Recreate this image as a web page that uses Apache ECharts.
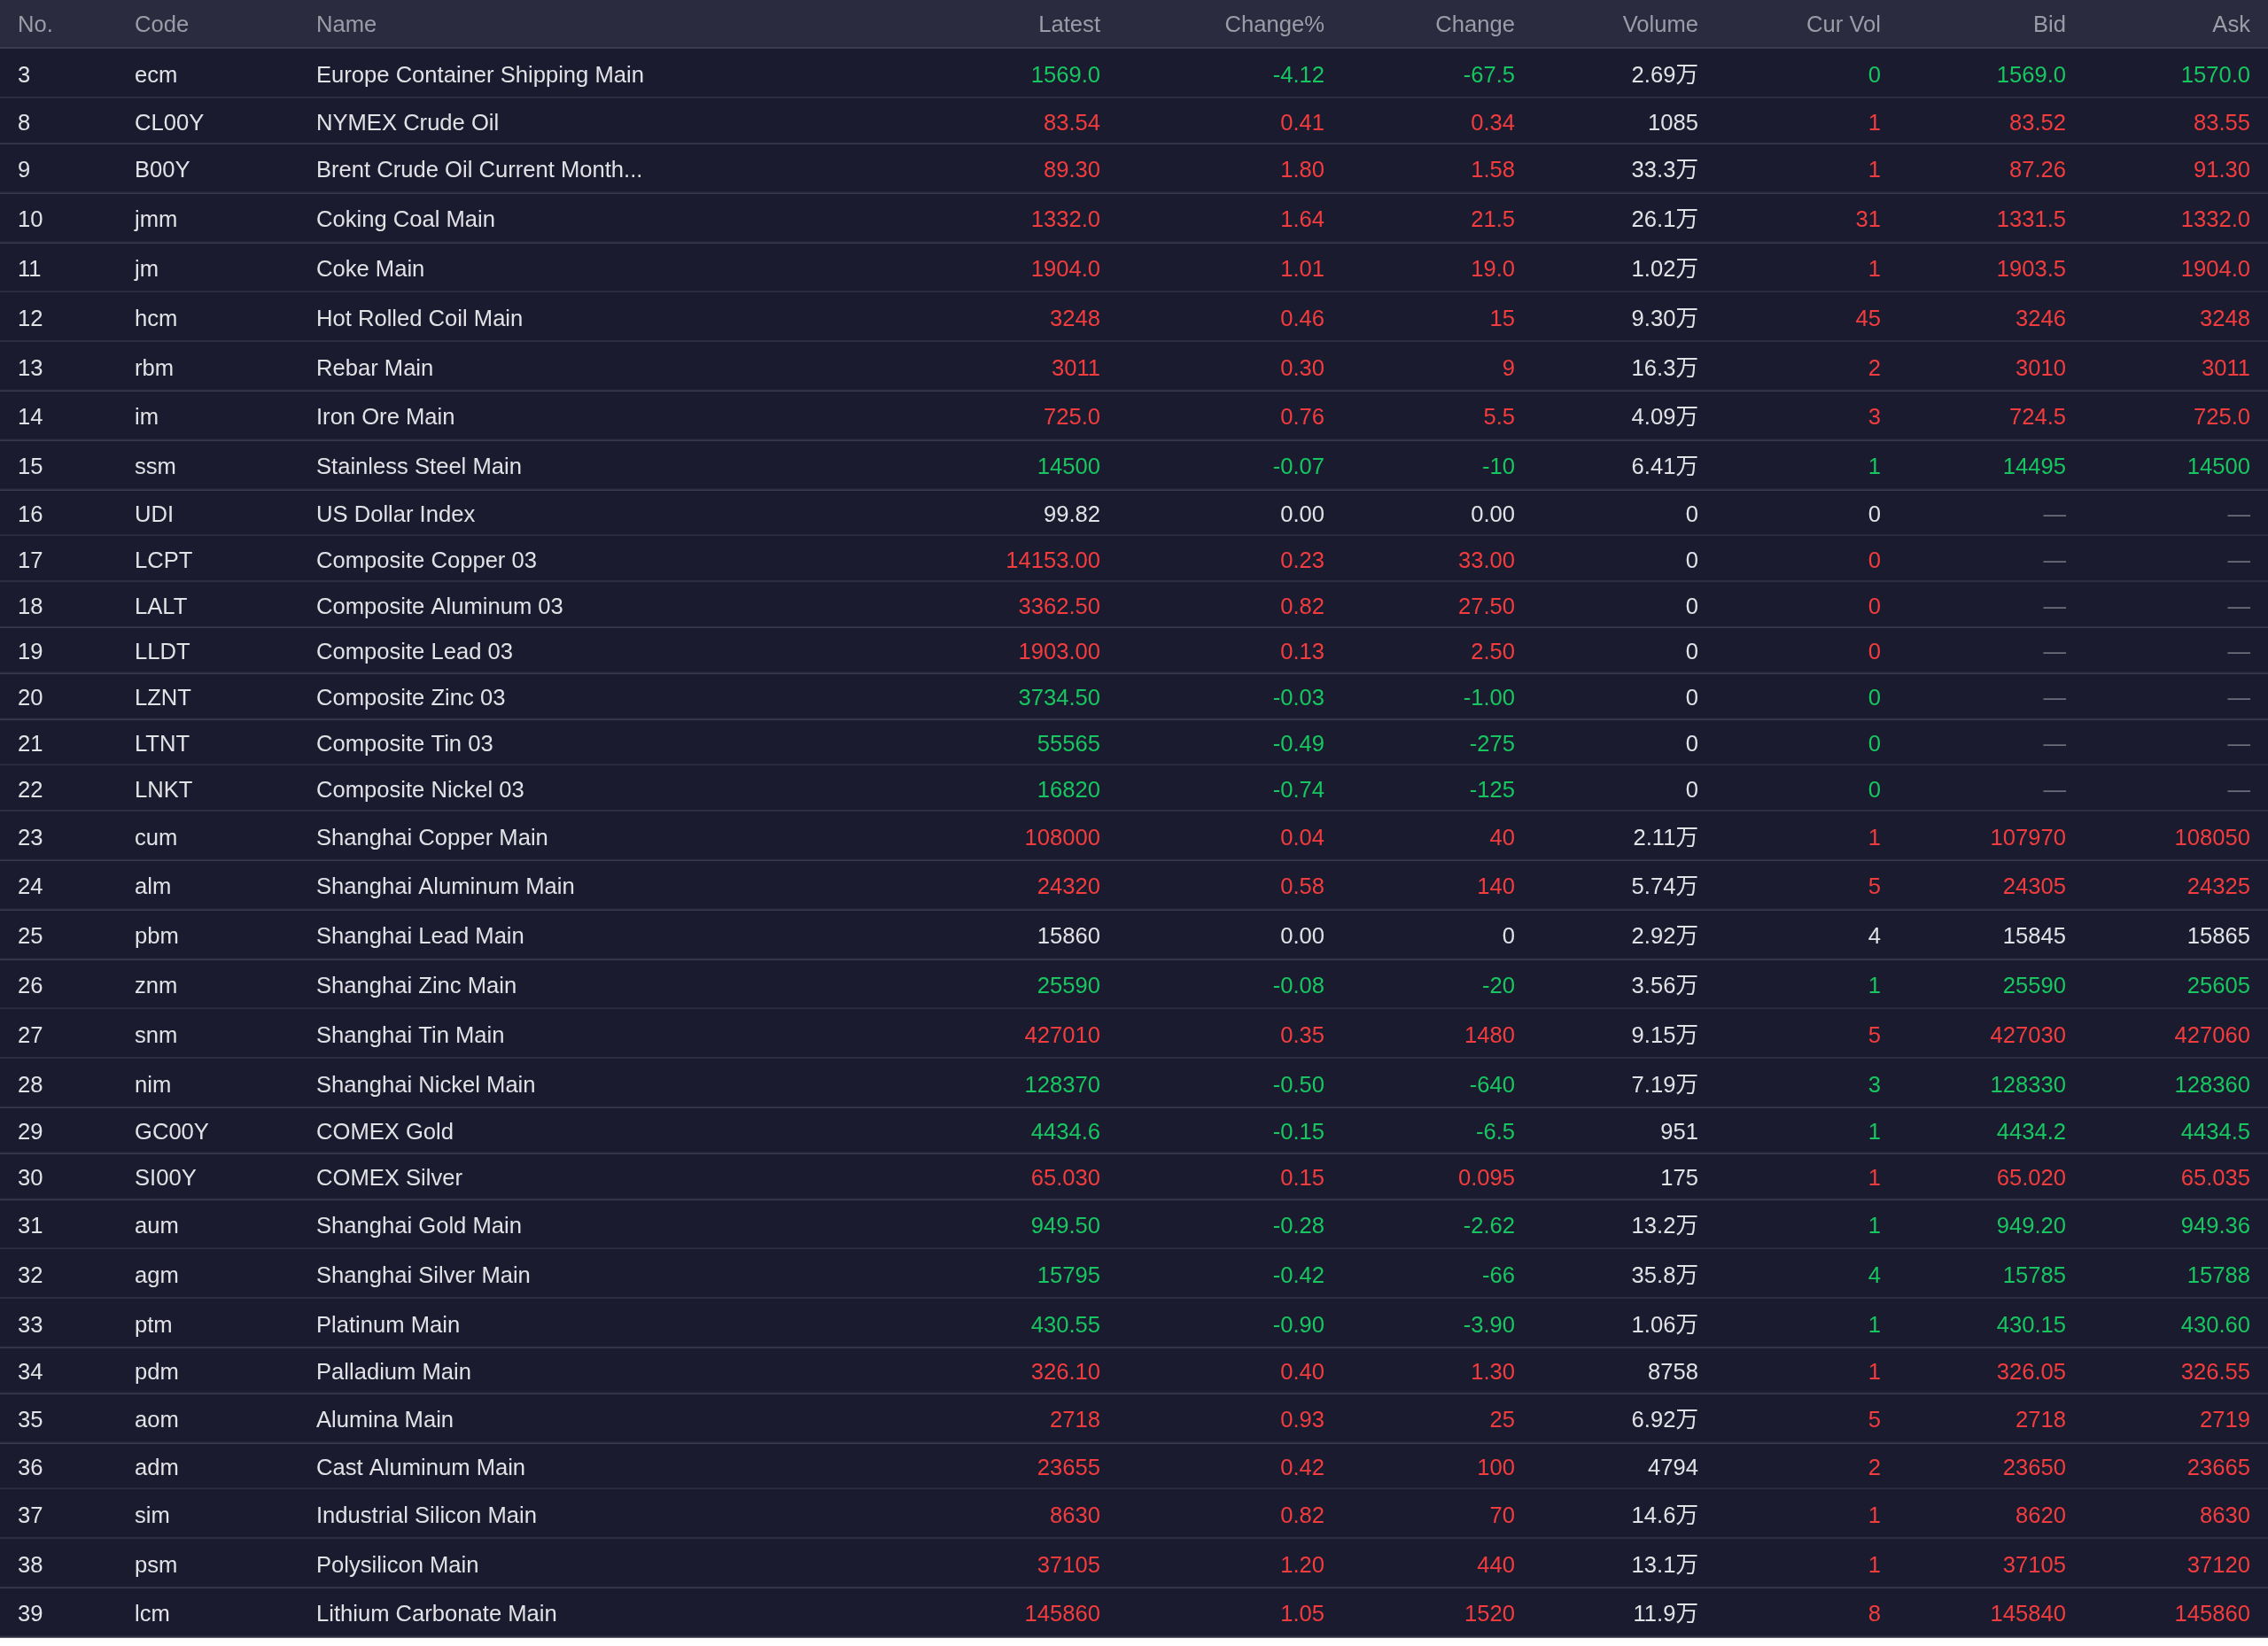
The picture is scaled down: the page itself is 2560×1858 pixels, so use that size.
<!DOCTYPE html>
<html>
<head>
<meta charset="utf-8">
<style>
html, body { margin: 0; padding: 0; background: #ffffff; }
#chart { width: 2560px; height: 1858px; }
</style>
<script src="https://cdn.jsdelivr.net/npm/echarts@6/dist/echarts.min.js"></script>
</head>
<body>
<div id="chart"></div>
<script>
var headers = ['No.', 'Code', 'Name', 'Latest', 'Change%', 'Change', 'Volume', 'Cur Vol', 'Bid', 'Ask'];

var nos = ['3', '8', '9', '10', '11', '12', '13', '14', '15', '16', '17', '18', '19', '20', '21', '22',
    '23', '24', '25', '26', '27', '28', '29', '30', '31', '32', '33', '34', '35', '36', '37', '38', '39'];
var codes = ['ecm', 'CL00Y', 'B00Y', 'jmm', 'jm', 'hcm', 'rbm', 'im', 'ssm', 'UDI', 'LCPT', 'LALT', 'LLDT',
    'LZNT', 'LTNT', 'LNKT', 'cum', 'alm', 'pbm', 'znm', 'snm', 'nim', 'GC00Y', 'SI00Y', 'aum', 'agm',
    'ptm', 'pdm', 'aom', 'adm', 'sim', 'psm', 'lcm'];
var names = ['Europe Container Shipping Main', 'NYMEX Crude Oil', 'Brent Crude Oil Current Month...',
    'Coking Coal Main', 'Coke Main', 'Hot Rolled Coil Main', 'Rebar Main', 'Iron Ore Main',
    'Stainless Steel Main', 'US Dollar Index', 'Composite Copper 03', 'Composite Aluminum 03',
    'Composite Lead 03', 'Composite Zinc 03', 'Composite Tin 03', 'Composite Nickel 03',
    'Shanghai Copper Main', 'Shanghai Aluminum Main', 'Shanghai Lead Main', 'Shanghai Zinc Main',
    'Shanghai Tin Main', 'Shanghai Nickel Main', 'COMEX Gold', 'COMEX Silver', 'Shanghai Gold Main',
    'Shanghai Silver Main', 'Platinum Main', 'Palladium Main', 'Alumina Main', 'Cast Aluminum Main',
    'Industrial Silicon Main', 'Polysilicon Main', 'Lithium Carbonate Main'];
var latest = ['1569.0', '83.54', '89.30', '1332.0', '1904.0', '3248', '3011', '725.0', '14500', '99.82',
    '14153.00', '3362.50', '1903.00', '3734.50', '55565', '16820', '108000', '24320', '15860', '25590',
    '427010', '128370', '4434.6', '65.030', '949.50', '15795', '430.55', '326.10', '2718', '23655',
    '8630', '37105', '145860'];
var changePct = ['-4.12', '0.41', '1.80', '1.64', '1.01', '0.46', '0.30', '0.76', '-0.07', '0.00',
    '0.23', '0.82', '0.13', '-0.03', '-0.49', '-0.74', '0.04', '0.58', '0.00', '-0.08', '0.35', '-0.50',
    '-0.15', '0.15', '-0.28', '-0.42', '-0.90', '0.40', '0.93', '0.42', '0.82', '1.20', '1.05'];
var change = ['-67.5', '0.34', '1.58', '21.5', '19.0', '15', '9', '5.5', '-10', '0.00', '33.00', '27.50',
    '2.50', '-1.00', '-275', '-125', '40', '140', '0', '-20', '1480', '-640', '-6.5', '0.095', '-2.62',
    '-66', '-3.90', '1.30', '25', '100', '70', '440', '1520'];
var volume = ['2.69万', '1085', '33.3万', '26.1万', '1.02万', '9.30万', '16.3万', '4.09万', '6.41万', '0',
    '0', '0', '0', '0', '0', '0', '2.11万', '5.74万', '2.92万', '3.56万', '9.15万', '7.19万', '951', '175',
    '13.2万', '35.8万', '1.06万', '8758', '6.92万', '4794', '14.6万', '13.1万', '11.9万'];
var curVol = ['0', '1', '1', '31', '1', '45', '2', '3', '1', '0', '0', '0', '0', '0', '0', '0', '1', '5',
    '4', '1', '5', '3', '1', '1', '1', '4', '1', '1', '5', '2', '1', '1', '8'];
var bid = ['1569.0', '83.52', '87.26', '1331.5', '1903.5', '3246', '3010', '724.5', '14495', '—', '—',
    '—', '—', '—', '—', '—', '107970', '24305', '15845', '25590', '427030', '128330', '4434.2', '65.020',
    '949.20', '15785', '430.15', '326.05', '2718', '23650', '8620', '37105', '145840'];
var ask = ['1570.0', '83.55', '91.30', '1332.0', '1904.0', '3248', '3011', '725.0', '14500', '—', '—',
    '—', '—', '—', '—', '—', '108050', '24325', '15865', '25605', '427060', '128360', '4434.5', '65.035',
    '949.36', '15788', '430.60', '326.55', '2719', '23665', '8630', '37120', '145860'];

// layout of the table (pixel units on both value axes)
var W = 2560, H = 1858;
var colX = [20, 152, 357, 1242, 1495, 1710, 1917, 2123, 2332, 2540];
var colAlign = ['left', 'left', 'left', 'right', 'right', 'right', 'right', 'right', 'right', 'right'];
var signed = [false, false, false, true, true, true, false, true, true, true];
var headerH = 55;
var rowTall = 55.8;   // rows holding CJK text get a taller line box
var rowShort = 51.8;
var textShift = 2.8;  // nudge text down onto the visual middle

var FONT = '25.6px "Liberation Sans", Arial, "Noto Sans CJK SC", sans-serif';
var RED = '#f23c3e', GREEN = '#17c660', WHITE = '#e2e2e6', GREY = '#9b9ca7', DASH = '#6c6d78';

var columns = [nos, codes, names, latest, changePct, change, volume, curVol, bid, ask];

var rowData = [];
var rowTop = headerH;
for (var i = 0; i < nos.length; i++) {
    var h = /[\u4e00-\u9fff]/.test(volume[i]) ? rowTall : rowShort;
    rowData.push([i, rowTop, rowTop + h]);
    rowTop += h;
}

function cellColor(i, c) {
    var txt = columns[c][i];
    if (txt === '—') return DASH;
    if (!signed[c]) return WHITE;
    var v = parseFloat(changePct[i]);
    if (v > 0) return RED;
    if (v < 0) return GREEN;
    return WHITE;
}

function renderHeader(params, api) {
    var p0 = api.coord([0, api.value(1)]);
    var p1 = api.coord([W, api.value(2)]);
    var children = [{
        type: 'rect',
        shape: { x: p0[0], y: p0[1], width: p1[0] - p0[0], height: p1[1] - p0[1] },
        style: { fill: '#2a2b3e' }
    }, {
        type: 'rect',
        shape: { x: p0[0], y: p1[1] - 2, width: p1[0] - p0[0], height: 2 },
        style: { fill: '#3a3b4e' }
    }];
    for (var c = 0; c < headers.length; c++) {
        var pt = api.coord([colX[c], (api.value(1) + api.value(2)) / 2 + textShift - 1]);
        children.push({
            type: 'text',
            x: pt[0], y: pt[1],
            style: { text: headers[c], fill: GREY, font: FONT, align: colAlign[c], verticalAlign: 'middle' }
        });
    }
    return { type: 'group', children: children };
}

function renderRow(params, api) {
    var i = api.value(0);
    var y0 = api.value(1), y1 = api.value(2);
    var p0 = api.coord([0, y0]);
    var p1 = api.coord([W, y1]);
    var children = [{
        type: 'rect',
        shape: { x: p0[0], y: p0[1], width: p1[0] - p0[0], height: p1[1] - p0[1] },
        style: { fill: '#1a1b2e' }
    }, {
        type: 'rect',
        shape: { x: p0[0], y: p1[1] - 1.8, width: p1[0] - p0[0], height: 1.8 },
        style: { fill: '#2c2d40' }
    }];
    for (var c = 0; c < columns.length; c++) {
        var pt = api.coord([colX[c], (y0 + y1) / 2 + textShift]);
        children.push({
            type: 'text',
            x: pt[0], y: pt[1],
            style: { text: columns[c][i], fill: cellColor(i, c), font: FONT, align: colAlign[c], verticalAlign: 'middle' }
        });
    }
    return { type: 'group', children: children };
}

var myChart = echarts.init(document.getElementById('chart'));
var option = {
    animation: false,
    grid: { left: 0, right: 0, top: 0, bottom: 0 },
    xAxis: { type: 'value', min: 0, max: W, show: false },
    yAxis: { type: 'value', min: 0, max: H, inverse: true, show: false },
    series: [{
        type: 'custom',
        silent: true,
        renderItem: renderHeader,
        encode: { x: 0, y: 1 },
        data: [[0, 0, headerH]]
    }, {
        type: 'custom',
        silent: true,
        renderItem: renderRow,
        encode: { x: 0, y: 1 },
        data: rowData
    }]
};
myChart.setOption(option);
</script>
</body>
</html>
